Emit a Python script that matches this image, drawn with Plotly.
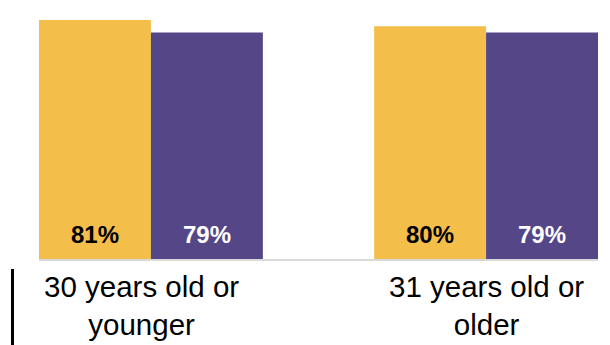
import plotly.graph_objects as go

# Data
categories = ["30 years old or<br>younger", "31 years old or<br>older"]
series_names = ["Series A", "Series B"]
series_a = [81, 80]
series_b = [79, 79]
bar_labels_a = ["81%", "80%"]
bar_labels_b = ["79%", "79%"]

YELLOW = "#F4BE4A"
PURPLE = "#544687"
FONT = "Arial, Liberation Sans, sans-serif"

bargap = 0.332
group_w = 1 - bargap
x_idx = list(range(len(categories)))

fig = go.Figure()
fig.add_trace(go.Bar(x=x_idx, y=series_a, name=series_names[0],
                     marker=dict(color=YELLOW, line=dict(width=0)),
                     hoverinfo="skip"))
fig.add_trace(go.Bar(x=x_idx, y=series_b, name=series_names[1],
                     marker=dict(color=PURPLE, line=dict(width=0)),
                     hoverinfo="skip"))

y_min, y_max = 42.76, 84.2

annotations = []
# value labels near the base of each bar
for i in x_idx:
    for off, txt, col in [(-group_w / 4, bar_labels_a[i], "#000000"),
                          (group_w / 4, bar_labels_b[i], "#FFFFFF")]:
        annotations.append(dict(
            x=i + off, y=y_min, xref="x", yref="y",
            text="<b>%s</b>" % txt, showarrow=False,
            yanchor="middle", yshift=25,
            font=dict(family=FONT, size=24, color=col)))

# category labels under the axis
label_x = [-0.027, 1.0]
for i, cat in enumerate(categories):
    annotations.append(dict(
        x=label_x[i], y=0, xref="x", yref="paper",
        text=cat, showarrow=False, yanchor="top", yshift=-9,
        font=dict(family=FONT, size=29.5, color="#000000")))

fig.update_layout(
    width=610, height=345,
    margin=dict(l=39, r=12, t=0, b=86),
    paper_bgcolor="white", plot_bgcolor="white",
    barmode="group", bargap=bargap, bargroupgap=0,
    showlegend=False,
    xaxis=dict(range=[-group_w / 2, 1 + group_w / 2], showticklabels=False,
               showgrid=False, zeroline=False, showline=True,
               linecolor="#D9D9D9", linewidth=1.5, ticks=""),
    yaxis=dict(range=[y_min, y_max], visible=False),
    annotations=annotations,
    shapes=[dict(type="line", xref="paper", yref="paper",
                 x0=-0.0474, x1=-0.0474, y0=-0.0386, y1=-0.34,
                 line=dict(color="#000000", width=3))],
)

fig.write_html("out.html")
